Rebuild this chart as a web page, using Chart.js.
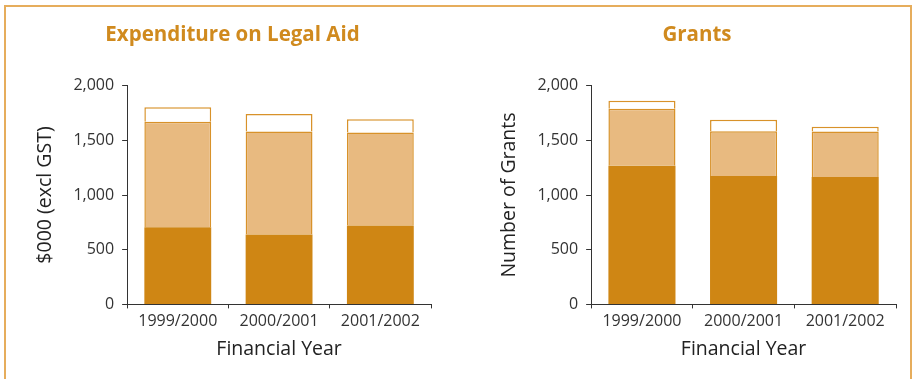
<!DOCTYPE html>
<html>
<head>
<meta charset="utf-8">
<script src="https://cdn.jsdelivr.net/npm/chart.js@4"></script>
<style>
  html, body { margin: 0; padding: 0; background: #fff; }
  body { width: 915px; height: 379px; position: relative; overflow: hidden; }
  .frame {
    position: absolute; left: 4px; top: 5px; width: 904px; height: 400px;
    border-top: 2px solid #E6AD5C; border-left: 2px solid #E6AD5C; border-right: 2px solid #E6AD5C;
  }
  .box { position: absolute; top: 0; height: 379px; }
  #expBox { left: 20px; width: 438px; }
  #grantBox { left: 498px; width: 412px; }
</style>
</head>
<body>
<div class="frame"></div>
<div class="box" id="expBox"><canvas id="expChart"></canvas></div>
<div class="box" id="grantBox"><canvas id="grantChart"></canvas></div>
<script>
const years = ['1999/2000', '2000/2001', '2001/2002'];

// Expenditure on legal aid, $000 (excl GST), stacked bottom to top
const expDark = [705, 640, 722];
const expLight = [965, 940, 850];
const expTop = [133, 160, 120];

// Number of grants, stacked bottom to top
const grantDark = [1268, 1173, 1165];
const grantLight = [520, 410, 416];
const grantTop = [73, 104, 43];

const DARK = '#CF8614';
const LIGHT = '#E8BA80';
const EDGE = '#D8922A';
const TEXT = '#333333';
const FONT = "'Open Sans', 'Noto Sans', sans-serif";

function makeChart(id, title, yTitle, dark, light, top, padLeft, padRight) {
  const ctx = document.getElementById(id).getContext('2d');
  return new Chart(ctx, {
    type: 'bar',
    data: {
      labels: years,
      datasets: [
        { data: dark, backgroundColor: DARK, borderWidth: 0 },
        { data: light, backgroundColor: LIGHT, borderColor: EDGE, borderWidth: 1.5 },
        { data: top, backgroundColor: '#ffffff', borderColor: EDGE, borderWidth: 1.5 }
      ]
    },
    options: {
      responsive: true,
      maintainAspectRatio: false,
      animation: false,
      categoryPercentage: 1,
      barPercentage: 0.66,
      layout: { padding: { left: padLeft, right: padRight, top: 0, bottom: 18 } },
      plugins: {
        legend: { display: false },
        tooltip: { enabled: false },
        title: {
          display: true,
          text: title,
          color: '#D08A1E',
          font: { family: FONT, size: 20.5, weight: 'bold' },
          padding: { top: 23, bottom: 38 }
        }
      },
      scales: {
        x: {
          stacked: true,
          offset: true,
          border: { color: TEXT, width: 1 },
          grid: { offset: true, drawOnChartArea: false, drawTicks: true, tickLength: 4, tickColor: TEXT },
          ticks: { color: TEXT, font: { family: FONT, size: 16 }, padding: 3 },
          title: {
            display: true, text: 'Financial Year', color: '#222',
            font: { family: FONT, size: 19.5 }, padding: { top: 4, bottom: 0 }
          }
        },
        y: {
          stacked: true,
          min: 0,
          max: 2000,
          border: { color: TEXT, width: 1 },
          grid: { drawOnChartArea: false, drawTicks: true, tickLength: 5, tickColor: TEXT },
          ticks: { stepSize: 500, color: TEXT, font: { family: FONT, size: 16 }, padding: 8 },
          title: {
            display: true, text: yTitle, color: '#222',
            font: { family: FONT, size: 19.5 }, padding: { top: 0, bottom: 8 }
          }
        }
      }
    }
  });
}

makeChart('expChart', 'Expenditure on Legal Aid', '$000 (excl GST)', expDark, expLight, expTop, 14, 27);
makeChart('grantChart', 'Grants', 'Number of Grants', grantDark, grantLight, grantTop, 0, 14);
</script>
</body>
</html>
